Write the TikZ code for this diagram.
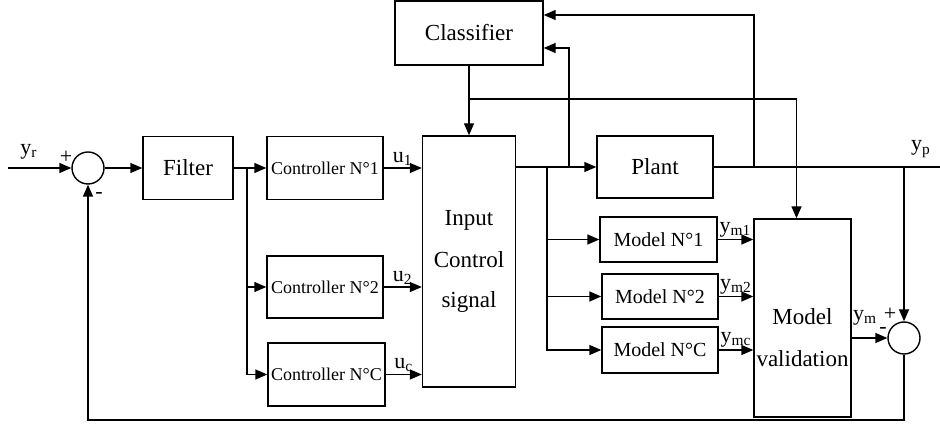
\documentclass[tikz,border=0pt]{standalone}
\usepackage{fontspec}
\setmainfont{Liberation Serif}
\usetikzlibrary{arrows.meta}
\tikzset{block/.style={draw,line width=0.7pt,inner sep=0pt,align=center,
 font=\fontsize{11.5}{14}\selectfont},
 ctrlfont/.style={font=\fontsize{9}{11}\selectfont},
 modelfont/.style={font=\fontsize{10}{12}\selectfont},
 summer/.style={draw,circle,line width=0.7pt,minimum size=16pt,inner sep=0pt},
 signal/.style={-{Triangle[length=6pt,width=5pt]},line width=0.7pt},
 wire/.style={line width=0.7pt},
 lbl/.style={font=\fontsize{11}{13}\selectfont,inner sep=1pt}}
\newcommand{\sig}[2]{#1\textsubscript{#2}}

\begin{document}
\begin{tikzpicture}[x=0.5pt,y=-0.5pt]
\useasboundingbox (0,0) rectangle (940,426);
\node[summer] (sum1) at (88,168) {};
\node[block,minimum width=45pt,minimum height=31.5pt] (filter) at (188,168) {Filter};
\node[block,ctrlfont,minimum width=58pt,minimum height=31.5pt] (ctrl1) at (325,168) {Controller N°1};
\node[block,ctrlfont,minimum width=58pt,minimum height=31pt] (ctrl2) at (325,287) {Controller N°2};
\node[block,ctrlfont,minimum width=58.5pt,minimum height=31.5pt] (ctrlC) at (326.5,374.5) {Controller N°C};
\node[block,minimum width=46.5pt,minimum height=125.5pt] (input) at (469,261.5) {Input\\[7pt]Control\\[6pt]signal};
\node[block,minimum width=74pt,minimum height=32pt] (classifier) at (469,33) {Classifier};
\node[block,minimum width=58pt,minimum height=31pt] (plant) at (655,167) {Plant};
\node[block,modelfont,minimum width=58.5pt,minimum height=22.5pt] (model1) at (658.5,239.5) {Model N°1};
\node[block,modelfont,minimum width=58pt,minimum height=22.5pt] (model2) at (660,296.5) {Model N°2};
\node[block,modelfont,minimum width=58pt,minimum height=23pt] (modelC) at (660,350) {Model N°C};
\node[block,minimum width=48.5pt,minimum height=99pt] (valid) at (802.5,318) {};
\node[align=center,font=\fontsize{11.5}{14}\selectfont] (validtext) at (802.5,338) {Model\\[7pt]validation};
\node[summer] (sum2) at (904,338) {};
\coordinate (yin) at (8,168);
\coordinate (yout) at (940,167);
\coordinate (split1) at (247,168);
\coordinate (split2) at (469,99);
\coordinate (split3) at (547,167);
\coordinate (split4) at (569,167);
\coordinate (split5) at (754,167);
\coordinate (split6) at (904,167);
\coordinate (fb) at (0,420);
\draw[signal] (yin) -- (sum1.west);
\draw[signal] (sum1.east) -- (filter.west);
\draw[signal] (filter.east) -- (ctrl1.west);
\draw[signal] (split1) |- (ctrl2.west);
\draw[signal] (split1) |- (ctrlC.west);
\draw[signal] (ctrl1.east) -- (ctrl1.east -| input.west) node[lbl,midway,above] (u1) {\sig{u}{1}};
\draw[signal] (ctrl2.east) -- (ctrl2.east -| input.west) node[lbl,midway,above] (u2) {\sig{u}{2}};
\draw[signal] (ctrlC.east) -- (ctrlC.east -| input.west) node[lbl,midway,above] (uc) {\sig{u}{c}};
\draw[signal] (classifier.south) -- (input.north);
\draw[signal] (split2) -| ([xshift=-3pt]valid.north);
\draw[signal] (input.east |- plant.west) -- (plant.west);
\draw[signal] (split4) |- ([yshift=-7.5pt]classifier.east);
\draw[signal] (split3) |- (model1.west);
\draw[signal] (split3) |- (model2.west);
\draw[signal] (split3) |- (modelC.west);
\draw[signal] (model1.east) -- (model1.east -| valid.west) node[lbl,midway,above] (ym1) {\sig{y}{m1}};
\draw[signal] (model2.east) -- (model2.east -| valid.west) node[lbl,midway,above] (ym2) {\sig{y}{m2}};
\draw[signal] (modelC.east) -- (modelC.east -| valid.west) node[lbl,midway,above] (ymc) {\sig{y}{mc}};
\draw[wire] (plant.east) -- (yout);
\draw[signal] (split5) |- ([yshift=9pt]classifier.east);
\draw[signal] (split6) -- (sum2.north);
\draw[signal] (valid.east |- sum2.west) -- (sum2.west);
\draw[signal] (sum2.south) -- (sum2.south |- fb) -| (sum1.south);
\node[lbl] (yr) at (29,152) {\sig{y}{r}};
\node[lbl] (yp) at (921,149) {\sig{y}{p}};
\node[lbl] (ym) at (865,318) {\sig{y}{m}};
\node[lbl] (plus1) at (66,157) {+};
\node[lbl] (minus1) at (99,196) {-};
\node[lbl] (plus2) at (890,314) {+};
\node[lbl] (minus2) at (883,330) {-};
\end{tikzpicture}
\end{document}
